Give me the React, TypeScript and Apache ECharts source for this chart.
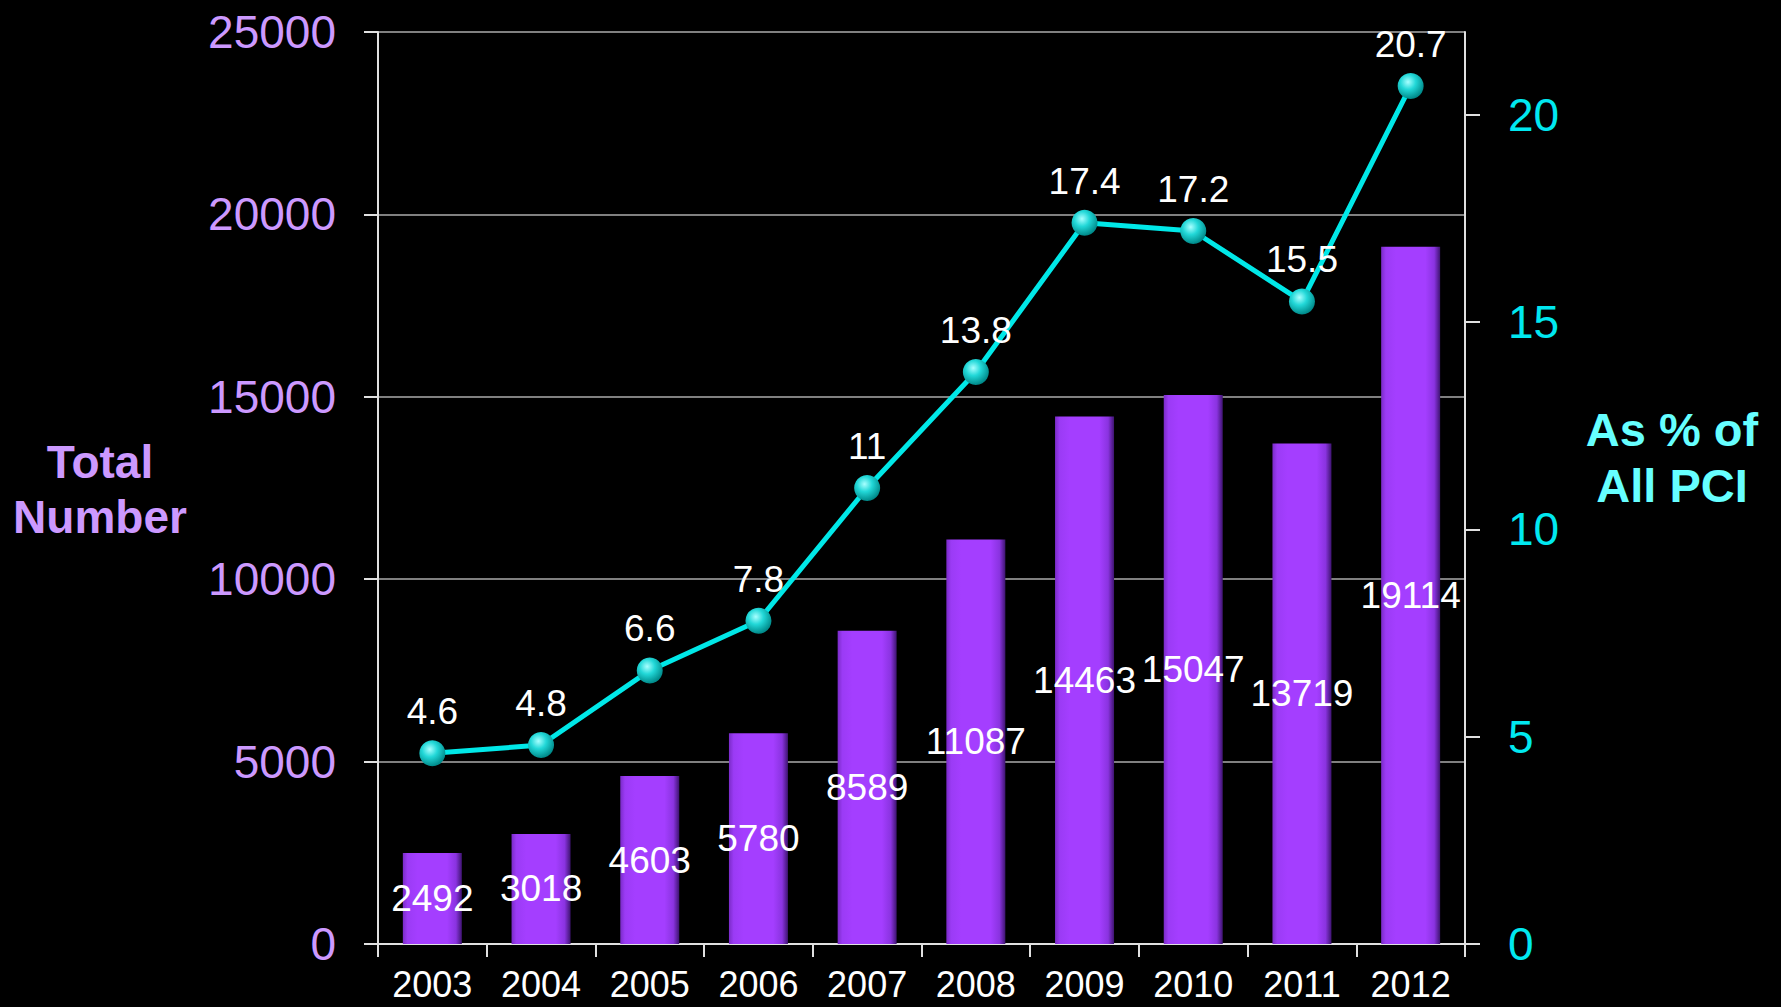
import React, { useEffect, useRef } from "react";
import * as echarts from "echarts";

const years = ["2003", "2004", "2005", "2006", "2007", "2008", "2009", "2010", "2011", "2012"];
const totalNumber = [2492, 3018, 4603, 5780, 8589, 11087, 14463, 15047, 13719, 19114];
const pctAllPci = [4.6, 4.8, 6.6, 7.8, 11, 13.8, 17.4, 17.2, 15.5, 20.7];
const leftTicks = [0, 5000, 10000, 15000, 20000, 25000];
const rightTicks = [0, 5, 10, 15, 20];
const leftTitle = "Total\nNumber";
const rightTitle = "As % of\nAll PCI";

const FONT = "'Liberation Sans', Arial, sans-serif";

export default function App() {
  const ref = useRef<HTMLDivElement>(null);
  useEffect(() => {
    document.body.style.margin = "0";
    document.body.style.background = "#000";
    const chart = echarts.init(ref.current!, null, { renderer: "svg" });
    chart.setOption({
      animation: false,
      backgroundColor: "#000000",
      textStyle: { fontFamily: FONT },
      grid: { left: 378, right: 316, top: 32, bottom: 63, containLabel: false },
      xAxis: {
        type: "category",
        data: years,
        boundaryGap: true,
        axisLine: { show: true, lineStyle: { color: "#E0E0E0", width: 2 } },
        axisTick: { show: true, length: 13, lineStyle: { color: "#E0E0E0", width: 2 } },
        axisLabel: { color: "#FFFFFF", fontSize: 36, fontFamily: FONT, margin: 21, lineHeight: 38 },
      },
      yAxis: [
        {
          type: "value",
          min: leftTicks[0],
          max: leftTicks[leftTicks.length - 1],
          interval: 5000,
          position: "left",
          axisLine: { show: true, lineStyle: { color: "#E0E0E0", width: 2 } },
          axisTick: { show: true, length: 14, lineStyle: { color: "#E0E0E0", width: 2 } },
          axisLabel: {
            color: "#CC99FF",
            fontSize: 46,
            fontFamily: FONT,
            margin: 42,
            formatter: (v: number) => String(v),
          },
          splitLine: { show: true, lineStyle: { color: "#808080", width: 2 } },
        },
        {
          type: "value",
          min: 0,
          max: 22,
          interval: 5,
          position: "right",
          axisLine: { show: true, lineStyle: { color: "#E0E0E0", width: 2 } },
          axisTick: { show: true, length: 15, customValues: rightTicks, lineStyle: { color: "#E0E0E0", width: 2 } },
          axisLabel: {
            color: "#00E8F0",
            fontSize: 46,
            fontFamily: FONT,
            margin: 43,
            customValues: rightTicks,
            formatter: (v: number) => String(v),
          },
          splitLine: { show: false },
        },
      ],
      series: [
        {
          type: "bar",
          data: totalNumber,
          yAxisIndex: 0,
          barWidth: 59,
          itemStyle: {
            color: new echarts.graphic.LinearGradient(0, 0, 1, 0, [
              { offset: 0, color: "#7A2BC8" },
              { offset: 0.08, color: "#9B3BF5" },
              { offset: 0.25, color: "#A43EFF" },
              { offset: 0.75, color: "#A43EFF" },
              { offset: 0.9, color: "#8A33E0" },
              { offset: 1, color: "#3E1470" },
            ]),
            borderWidth: 0,
          },
          label: {
            show: true,
            position: "inside",
            color: "#FFFFFF",
            fontSize: 37,
            fontFamily: FONT,
            textBorderWidth: 0,
          },
          z: 2,
        },
        {
          type: "line",
          data: pctAllPci,
          yAxisIndex: 1,
          symbol: "circle",
          symbolSize: 26,
          lineStyle: { color: "#00E8E8", width: 5 },
          itemStyle: {
            color: new echarts.graphic.RadialGradient(0.4, 0.35, 0.65, [
              { offset: 0, color: "#A8FFFF" },
              { offset: 0.45, color: "#22D8D8" },
              { offset: 1, color: "#008A8A" },
            ]),
            borderWidth: 0,
          },
          label: {
            show: true,
            position: "top",
            distance: 10,
            color: "#FFFFFF",
            fontSize: 37,
            fontFamily: FONT,
            textBorderWidth: 0,
          },
          z: 5,
        },
      ],
      graphic: [
        {
          type: "text",
          x: 100,
          y: 489,
          style: {
            text: leftTitle,
            fill: "#CC99FF",
            font: `bold 46px ${FONT}`,
            textAlign: "center",
            textVerticalAlign: "middle",
            lineHeight: 55,
          },
        },
        {
          type: "text",
          x: 1672,
          y: 457,
          style: {
            text: rightTitle,
            fill: "#66FFFF",
            font: `bold 47px ${FONT}`,
            textAlign: "center",
            textVerticalAlign: "middle",
            lineHeight: 56,
          },
        },
      ],
    });
    return () => chart.dispose();
  }, []);
  return (
    <div
      ref={ref}
      style={{ position: "fixed", left: 0, top: 0, width: 1781, height: 1007, background: "#000" }}
    />
  );
}
